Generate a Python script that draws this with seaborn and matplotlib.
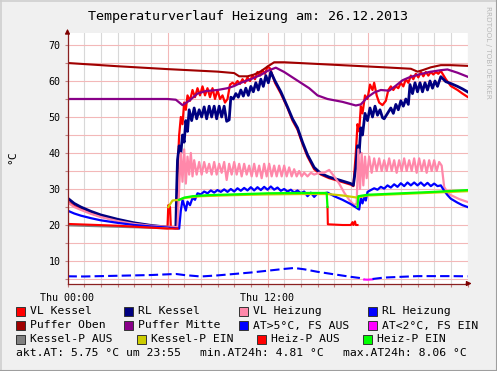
import matplotlib
matplotlib.use("Agg")
import matplotlib.pyplot as plt
import seaborn as sns
from matplotlib.lines import Line2D
from matplotlib.patches import Rectangle

plt.rcParams['font.family'] = ['DejaVu Sans Mono', 'DejaVu Sans']

# ---- data (hours since Thu 00:00, degrees C) ----
po_t = [0, 3, 6, 9, 10.0, 10.3, 10.8, 11.2, 11.6, 12.0, 12.4, 13, 16, 19, 20.6, 21.0, 21.3, 21.8, 22.4, 23, 24]
po_v = [65.0, 64.1, 63.3, 62.6, 62.2, 61.3, 61.3, 61.8, 62.7, 64.0, 65.2, 65.2, 64.5, 63.8, 63.4, 62.6, 63.0, 63.8, 64.4, 64.4, 64.2]

pm_t = [0, 6.0, 6.5, 6.9, 7.3, 7.8, 8.3, 9.0, 9.6, 10.0, 10.4, 11.0, 11.6, 12.0, 12.5, 13.0, 13.5, 14.0, 14.5,
        15.0, 15.6, 16.5, 17.3, 17.6, 18.0, 18.4, 18.8, 19.3, 19.7, 20.1, 20.5, 21.0, 21.7, 22.4, 22.8, 23.4, 24]
pm_v = [55.0, 55.0, 54.8, 53.3, 54.5, 56.5, 57.2, 57.5, 58.0, 58.6, 59.5, 60.5, 61.7, 62.8, 63.7, 62.5, 61.0, 59.5, 58.0,
        56.0, 55.0, 54.2, 53.2, 53.5, 55.5, 56.8, 57.5, 57.3, 58.7, 60.2, 61.0, 61.7, 62.5, 63.0, 63.2, 62.3, 61.2]

rk_t = [0, 0.4, 0.8, 1.4, 2, 3, 4, 5, 6, 6.5,
        6.55, 6.6, 6.7, 6.8, 6.9, 7.0, 7.1, 7.2, 7.3, 7.45, 7.6, 7.75, 7.9, 8.05, 8.2, 8.35, 8.5, 8.65, 8.8, 8.95,
        9.1, 9.25, 9.4, 9.55, 9.7, 9.8, 9.95, 10.1, 10.25, 10.4, 10.55, 10.7, 10.85, 11.0, 11.15, 11.3, 11.45,
        11.6, 11.75, 11.9, 12.05, 12.2, 12.3, 12.45, 12.8, 13.2, 13.5, 13.8, 14.1, 14.4, 14.8, 15.2, 15.7, 16.3,
        17.0, 17.15, 17.3, 17.4, 17.5, 17.6, 17.7, 17.85, 18.0, 18.15, 18.3, 18.45, 18.6, 18.75, 18.9, 19.0,
        19.2, 19.4, 19.55, 19.7, 19.85, 20.0, 20.15, 20.3, 20.45, 20.55, 20.7, 20.85, 21.0, 21.15, 21.3, 21.45,
        21.6, 21.75, 21.9, 22.05, 22.2, 22.4, 22.7, 23.0, 23.4, 23.7, 24]
rk_v = [27.5, 26.0, 25.0, 23.8, 22.8, 21.6, 20.6, 19.9, 19.4, 19.2,
        30, 38, 42, 40, 45, 43, 49, 46, 52, 49, 52.5, 49.5, 52, 50, 52.8, 49.5, 53, 50, 53, 49.5,
        53, 50, 53, 48.8, 49.2, 55.5, 55.0, 56.5, 55.5, 57.5, 55.8, 58, 56, 58.5, 57, 59.5, 57.5,
        60.5, 58.5, 61.5, 59.5, 62.5, 61.5, 60, 57, 52.8, 49.5, 47, 43, 39.5, 36, 34.3, 33.3, 32.5,
        31.5, 31, 36, 42, 40, 47, 45, 51, 49, 52.5, 50, 53, 50.5, 52, 49.8, 49.5,
        51, 52.5, 51, 53.5, 52, 54.5, 53, 55, 53.5, 59, 56.5, 59.5, 57, 59.5, 57, 59.5,
        57.5, 60, 58, 60, 58.5, 61.2, 59.8, 59.3, 58.5, 57.8, 57]

vk_t = [0, 0.4, 0.8, 1.4, 2, 3, 4, 5, 6.0, 6.05, 6.15, 6.2, 6.55,
        6.6, 6.7, 6.8, 6.9, 7.0, 7.1, 7.2, 7.35, 7.5, 7.65, 7.8, 7.95, 8.1, 8.25, 8.4, 8.55, 8.7, 8.85, 9.0,
        9.15, 9.3, 9.45, 9.6, 9.75, 9.9, 10.05, 10.2, 10.35, 10.5, 10.65, 10.8, 10.95, 11.1, 11.25, 11.4, 11.55,
        11.7, 11.85, 12.0, 12.15, 12.3, 12.45, 12.8, 13.2, 13.5, 13.8, 14.1, 14.4, 14.8, 15.2, 15.7, 16.3, 17.0,
        17.15, 17.3, 17.4, 17.5, 17.6, 17.7, 17.85, 18.0, 18.15, 18.3, 18.4, 18.55, 18.7, 18.9, 19.1, 19.25,
        19.4, 19.55, 19.7, 19.85, 20.0, 20.15, 20.3, 20.45, 20.6, 20.75, 20.9, 21.05, 21.2, 21.35, 21.5, 21.65,
        21.8, 21.95, 22.1, 22.25, 22.4, 22.7, 23.0, 23.4, 23.7, 24]
vk_v = [26.5, 25.3, 24.5, 23.3, 22.4, 21.2, 20.3, 19.7, 19.3, 25.5, 25.0, 19.3, 19.3,
        35, 45, 50, 48, 54, 52, 56, 54.5, 57.5, 55.5, 58, 56, 58.5, 56, 58, 55.5, 58, 55, 57.5,
        55, 56, 54, 55, 59, 59.5, 59, 60, 59.2, 60.5, 59.5, 61, 60, 61.5, 60.5, 62.5, 61.5,
        63, 62, 64, 63.5, 61.5, 59.5, 56.5, 52.5, 49, 46.5, 42.5, 39, 35.5, 34, 33, 32.2, 31.2,
        30.8, 40, 48, 46, 53, 51, 56, 55, 59, 57.5, 59.5, 56, 54, 53.3, 54.5, 57.5,
        58.5, 57.5, 58.5, 58, 59.5, 58.5, 60.5, 59.5, 61.5, 60.5, 62, 61, 62.5, 61.3, 62.5, 61.5,
        62.5, 61.8, 62.5, 62, 62.8, 60.5, 58.6, 57.5, 56.5, 55.6]

vh_t = [0, 0.4, 0.8, 1.4, 2, 3, 4, 5, 6, 6.6,
        6.7, 6.8, 6.9, 7.0, 7.1, 7.2, 7.3, 7.4, 7.5, 7.6, 7.75, 7.9, 8.05, 8.2, 8.35, 8.5, 8.65, 8.8, 8.95,
        9.1, 9.25, 9.4, 9.55, 9.7, 9.85, 10.0, 10.15, 10.3, 10.45, 10.6, 10.75, 10.9, 11.05, 11.2, 11.35, 11.5,
        11.65, 11.8, 11.95, 12.1, 12.25, 12.4, 12.55, 12.7, 12.85, 13.0, 13.15, 13.3, 13.45, 13.6, 13.75, 13.9,
        14.05, 14.2, 14.4, 14.6, 14.8, 15.1, 15.4, 15.7, 16.0, 16.3, 16.6, 16.9, 17.2, 17.35,
        17.45, 17.55, 17.65, 17.75, 17.85, 17.95, 18.1, 18.25, 18.4, 18.55, 18.7, 18.85, 19.0, 19.15, 19.3,
        19.45, 19.6, 19.75, 19.9, 20.05, 20.2, 20.35, 20.5, 20.65, 20.8, 20.95, 21.1, 21.25, 21.4, 21.55, 21.7,
        21.85, 22.0, 22.15, 22.3, 22.45, 22.6, 22.8, 23.0, 23.5, 24]
vh_v = [26.3, 25.0, 24.2, 23.1, 22.2, 21.1, 20.3, 19.8, 19.5, 19.4,
        30, 40, 32, 41, 31.5, 39, 34, 40, 33.5, 38, 34, 37.5, 34, 37.5, 34.5, 37, 34, 37.5, 34,
        37, 34.5, 37.5, 32.5, 37, 34, 37.5, 34, 37, 33.5, 37, 34, 36.5, 33.5, 37, 33.5, 36.5,
        33, 37, 33.5, 37, 33.5, 36.5, 33.5, 36.5, 33.5, 36.5, 33.5, 36, 33.5, 35.5, 33.5, 35,
        33.5, 34.5, 33.5, 34.5, 34, 34.5, 34.5, 35.3, 33.5, 31.5, 29, 27, 25.5, 26,
        41, 30, 40, 31, 39, 33, 39, 34.5, 38.5, 35, 38.5, 35, 38, 35, 38.5,
        35, 38, 34.5, 38, 35, 38.5, 35, 38, 35, 38.5, 34.5, 38.5, 35, 38, 34.5, 38,
        35, 38, 35, 37.5, 36.5, 30.6, 29, 28.3, 27.2, 26.4]

rh_t = [0, 0.4, 0.8, 1.4, 2, 3, 4, 5, 6, 6.7,
        6.8, 6.9, 7.0, 7.1, 7.2, 7.35, 7.5, 7.65, 7.8, 8.0, 8.2, 8.4, 8.6, 8.8, 9.0, 9.2, 9.4, 9.6, 9.8,
        10.0, 10.2, 10.4, 10.6, 10.8, 11.0, 11.2, 11.4, 11.6, 11.8, 12.0, 12.2, 12.4, 12.6, 12.8, 13.0, 13.2,
        13.4, 13.6, 13.8, 14.0, 14.2, 14.4, 14.6, 14.8, 15.0, 15.3, 15.6, 16.0, 16.5, 17.0, 17.5,
        17.6, 17.7, 17.8, 17.9, 18.0, 18.2, 18.4, 18.6, 18.8, 19.0, 19.2, 19.4, 19.6, 19.8, 20.0, 20.2, 20.4,
        20.6, 20.8, 21.0, 21.2, 21.4, 21.6, 21.8, 22.0, 22.2, 22.4, 22.6, 22.8, 23.0, 23.4, 23.7, 24]
rh_v = [24.0, 23.2, 22.6, 21.9, 21.3, 20.6, 20.0, 19.6, 19.3, 19.0,
        24, 27, 25.5, 24, 26.5, 25.5, 27.5, 27, 28.8, 28.5, 29.3, 28.8, 29.6, 29.0, 29.7, 29.2, 29.9, 29.2, 30.0,
        29.3, 30.2, 29.5, 30.3, 29.6, 30.5, 29.6, 30.5, 29.7, 30.6, 29.8, 30.7, 29.8, 30.4, 29.5, 30.0, 29.3,
        29.8, 29.0, 29.6, 28.8, 29.3, 28.0, 29.0, 27.8, 28.8, 28.7, 29.0, 28.0, 27.0, 25.8, 24.3,
        27.5, 26.0, 27.8, 26.8, 29.2, 29.7, 30.2, 29.8, 30.6, 30.1, 31.0, 30.4, 31.3, 30.6, 31.6, 30.8, 31.8,
        31.0, 31.8, 31.0, 31.8, 30.9, 31.7, 30.8, 31.5, 30.8, 31.0, 29.5, 28.3, 27.3, 26.2, 25.5, 25.0]

# outside temperature (AT), split where it is drawn in another colour
at1_t = [0, 1, 2, 3, 4, 5, 6, 6.5, 7, 8, 9, 10, 11, 12, 13, 13.6, 14.2, 15, 16, 17, 17.5, 17.8]
at1_v = [5.75, 5.7, 5.8, 5.9, 6.0, 6.1, 6.3, 6.4, 6.1, 5.7, 6.0, 6.4, 6.8, 7.3, 7.8, 8.06, 7.7, 7.0, 6.3, 5.6, 5.3, 5.0]
at2_t = [17.8, 18.0, 18.3]
at2_v = [4.85, 4.81, 4.9]
at3_t = [18.3, 19, 20, 21, 22, 23, 24]
at3_v = [5.0, 5.4, 5.6, 5.8, 5.8, 5.8, 5.75]

kpa_t = [0, 6.0]
kpa_v = [19.9, 19.1]
kpe_t = [6.05, 6.3, 6.7, 7.0, 8.0, 10.0, 12.0, 14.0, 15.6, 16.5, 17.4, 18.0, 20.0, 22.0, 24.0]
kpe_v = [25.0, 26.8, 27.0, 27.5, 28.0, 28.3, 28.5, 28.6, 28.6, 28.2, 27.6, 28.2, 28.6, 29.0, 29.4]

hpa1_t = [0, 3, 6.0, 6.6]
hpa1_v = [20.3, 19.8, 19.0, 19.0]
hpa2_t = [15.6, 15.62, 16.5, 17.0, 17.1, 17.15, 17.25, 17.3, 17.4]
hpa2_v = [25.0, 20.2, 20.0, 20.0, 20.8, 20.0, 21.0, 20.0, 20.0]
hpe1_t = [6.7, 7.0, 7.5, 8.5, 10, 12, 14, 15.55, 15.6]
hpe1_v = [27.0, 27.6, 28.0, 28.3, 28.5, 28.8, 28.9, 28.9, 25.0]
hpe2_t = [17.4, 17.45, 18, 20, 22, 24]
hpe2_v = [25.0, 28.0, 28.4, 28.8, 29.2, 29.7]

legend_rows = [
    [("VL Kessel", "#FF0000"), ("RL Kessel", "#000080"), ("VL Heizung", "#FF88AA"), ("RL Heizung", "#0000FF")],
    [("Puffer Oben", "#A00000"), ("Puffer Mitte", "#880088"), ("AT>5°C, FS AUS", "#0000FF"), ("AT<2°C, FS EIN", "#FF00FF")],
    [("Kessel-P AUS", "#808080"), ("Kessel-P EIN", "#CCCC00"), ("Heiz-P AUS", "#FF0000"), ("Heiz-P EIN", "#00FF00")],
]
legend_x = [[16, 124, 239, 368], [16, 124, 239, 368], [16, 137, 257, 363]]
legend_y = [311.5, 325.5, 339.5]

W, H = 497, 371
fig = plt.figure(figsize=(W / 100, H / 100), dpi=100, facecolor="#F0F0F0")
ax = fig.add_axes([67.5 / W, 1 - 283.5 / H, 400 / W, 250.5 / H])
ax.set_facecolor("white")


def line(t, v, color, lw=1.5, **kw):
    sns.lineplot(x=t, y=v, color=color, linewidth=lw, estimator=None, sort=False,
                 legend=False, ax=ax, **kw)


line(vk_t, vk_v, "#FF0000", 1.6)
line(rk_t, rk_v, "#000080", 2.0)
line(vh_t, vh_v, "#FF88AA", 1.6)
line(rh_t, rh_v, "#0000FF", 1.6)
line(po_t, po_v, "#A00000", 1.5)
line(pm_t, pm_v, "#880088", 1.6)
line(at1_t, at1_v, "#0000FF", 1.5, linestyle=(0, (4.5, 2)))
line(at2_t, at2_v, "#FF00FF", 1.5)
line(at3_t, at3_v, "#0000FF", 1.5, linestyle=(0, (4.5, 2)))
line(kpa_t, kpa_v, "#808080", 1.5)
line(kpe_t, kpe_v, "#CCCC00", 1.6)
line(hpa1_t, hpa1_v, "#FF0000", 1.5)
line(hpa2_t, hpa2_v, "#FF0000", 1.5)
line(hpe1_t, hpe1_v, "#00FF00", 1.6)
line(hpe2_t, hpe2_v, "#00FF00", 1.6)

ax.set_xlim(0, 24)
ax.set_ylim(3.75, 73.33)
ax.set_xlabel("")
ax.set_ylabel("")

ax.set_xticks([0, 6, 12, 18])
ax.set_xticklabels(["Thu 00:00", "", "Thu 12:00", ""])
ax.set_xticks(range(0, 25), minor=True)
ax.set_yticks(range(5, 75, 5))
ax.set_yticklabels([str(v) if v % 10 == 0 else "" for v in range(5, 75, 5)])
ax.tick_params(axis="both", which="both", labelsize=7.2, length=2, width=0.8, color="#C08080")
ax.tick_params(axis="x", pad=5)
ax.tick_params(axis="y", pad=3)

ax.grid(True, axis="x", which="minor", color="#D8D8D8", lw=0.8, zorder=0)
ax.grid(True, axis="x", which="major", color="#F3B8B8", lw=0.8, zorder=0)
ax.grid(True, axis="y", which="major", color="#F3B8B8", lw=0.8, zorder=0)
ax.set_axisbelow(True)

for s in ["top", "right"]:
    ax.spines[s].set_visible(False)
for s in ["left", "bottom"]:
    ax.spines[s].set_color("#8A2020")
    ax.spines[s].set_linewidth(0.9)

ax.annotate("", xy=(0, 1 + 7 / 250.5), xytext=(0, 0.99), xycoords="axes fraction",
            arrowprops=dict(arrowstyle="-|>", color="#7F0000", lw=0.9, mutation_scale=7))
ax.annotate("", xy=(1 + 7 / 400, 0), xytext=(0.99, 0), xycoords="axes fraction",
            arrowprops=dict(arrowstyle="-|>", color="#7F0000", lw=0.9, mutation_scale=7))

fig.text(0.5, 1 - 16.5 / H, "Temperaturverlauf Heizung am: 26.12.2013", ha="center", va="center",
         fontsize=9.6)
fig.text(12.5 / W, 1 - 157 / H, "°C", rotation=90, ha="center", va="center", fontsize=8.2)
fig.text(488 / W, 1 - 6 / H, "RRDTOOL / TOBI OETIKER", rotation=270, ha="center", va="top",
         fontsize=5.2, color="#B8B8B8", family="DejaVu Sans")

for row, xs, y in zip(legend_rows, legend_x, legend_y):
    for (label, col), x in zip(row, xs):
        fig.add_artist(Rectangle((x / W, 1 - (y + 4.5) / H), 9 / W, 9 / H, transform=fig.transFigure,
                                 facecolor=col, edgecolor="#333333", lw=0.7))
        fig.text((x + 14) / W, 1 - y / H, label, ha="left", va="center", fontsize=8.2)

for x, txt in [(16, "akt.AT: 5.75 °C um 23:55"), (200, "min.AT24h: 4.81 °C"), (343, "max.AT24h: 8.06 °C")]:
    fig.text(x / W, 1 - 353.5 / H, txt, ha="left", va="center", fontsize=8.2)

# frame shading
fig.add_artist(Line2D([0, 1], [1 - 0.5 / H, 1 - 0.5 / H], color="#CFCFCF", lw=1.2, transform=fig.transFigure))
fig.add_artist(Line2D([0.5 / W, 0.5 / W], [0, 1], color="#CFCFCF", lw=1.2, transform=fig.transFigure))
fig.add_artist(Line2D([0, 1], [0.5 / H, 0.5 / H], color="#9E9E9E", lw=1.5, transform=fig.transFigure))
fig.add_artist(Line2D([1 - 0.5 / W, 1 - 0.5 / W], [0, 1], color="#9E9E9E", lw=1.5, transform=fig.transFigure))

fig.savefig("out.png", dpi=100, facecolor=fig.get_facecolor())
